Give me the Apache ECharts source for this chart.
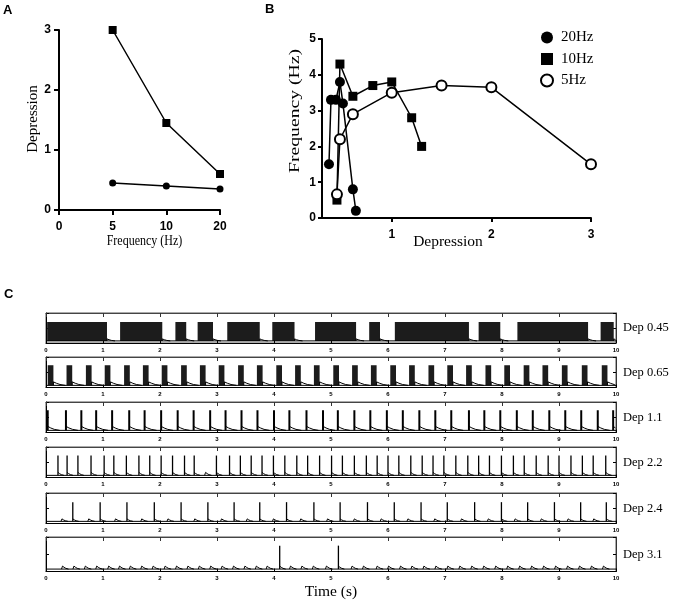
<!DOCTYPE html>
<html><head><meta charset="utf-8">
<script src="https://cdn.jsdelivr.net/npm/echarts@6/dist/echarts.min.js"></script>
<style>html,body{margin:0;padding:0;background:#fff}#c{width:680px;height:601px}</style>
</head><body><div id="c"></div><script>
// ---------- Panel A data ----------
const freqCategories = ['0', '5', '10', '20'];
const depressionSquares = [null, 3.0, 1.45, 0.6];
const depressionCircles = [null, 0.45, 0.40, 0.35];
const depressionTicks = [0, 1, 2, 3];

// ---------- Panel B data ([depression, frequency]) ----------
const legendNames = ['20Hz', '10Hz', '5Hz'];
const b20Hz = [[0.37, 1.5], [0.39, 3.3], [0.44, 3.3], [0.48, 3.8], [0.51, 3.2], [0.61, 0.8], [0.64, 0.2]];
const b10Hz = [[0.45, 0.5], [0.48, 4.3], [0.61, 3.4], [0.81, 3.7], [1.0, 3.8], [1.2, 2.8], [1.3, 2.0]];
const b5Hz  = [[0.45, 0.66], [0.48, 2.2], [0.61, 2.9], [1.0, 3.5], [1.5, 3.7], [2.0, 3.65], [3.0, 1.5]];
const bXTicks = [1, 2, 3];

// ---------- Panel C data (times in s) ----------
const traceLabels = ['Dep 0.45', 'Dep 0.65', 'Dep 1.1', 'Dep 2.2', 'Dep 2.4', 'Dep 3.1'];
const timeRange = [0, 10];
const dep045Bursts = [[0.02, 1.07], [1.30, 2.04], [2.27, 2.46], [2.66, 2.93], [3.18, 3.75], [3.97, 4.36],
  [4.72, 5.44], [5.67, 5.86], [6.12, 7.42], [7.59, 7.97], [8.27, 9.51], [9.73, 9.96]];
const dep065Bursts = [[0.03, 0.13], [0.36, 0.46], [0.70, 0.80], [1.03, 1.13], [1.37, 1.47], [1.70, 1.80],
  [2.03, 2.13], [2.37, 2.47], [2.70, 2.80], [3.03, 3.13], [3.37, 3.47], [3.70, 3.80], [4.04, 4.14],
  [4.37, 4.47], [4.70, 4.80], [5.04, 5.14], [5.37, 5.47], [5.70, 5.80], [6.04, 6.14], [6.37, 6.47],
  [6.71, 6.81], [7.04, 7.14], [7.37, 7.47], [7.71, 7.81], [8.04, 8.14], [8.38, 8.48], [8.71, 8.81],
  [9.05, 9.15], [9.40, 9.50], [9.75, 9.85]];
const dep11Spikes = [0.03, 0.35, 0.62, 0.88, 1.16, 1.46, 1.73, 2.02, 2.31, 2.59, 2.88, 3.15, 3.43, 3.71,
  4.00, 4.27, 4.57, 4.86, 5.12, 5.41, 5.69, 5.98, 6.26, 6.55, 6.83, 7.11, 7.42, 7.69, 7.97, 8.26,
  8.54, 8.83, 9.11, 9.39, 9.68, 9.95];
const dep22Spikes = [0.21, 0.37, 0.56, 0.79, 1.02, 1.19, 1.41, 1.63, 1.82, 2.02, 2.22, 2.43, 2.60,
  2.99, 3.22, 3.41, 3.60, 3.79, 3.99, 4.19, 4.40, 4.59, 4.80, 5.01, 5.20, 5.41, 5.62, 5.81, 6.00,
  6.19, 6.40, 6.60, 6.79, 6.98, 7.19, 7.40, 7.59, 7.78, 7.99, 8.20, 8.39, 8.60, 8.81, 9.00, 9.21,
  9.41, 9.60, 9.82];
const dep22Failures = [2.80];
const dep24Spikes = [0.47, 0.95, 1.42, 1.90, 2.37, 2.84, 3.30, 3.75, 4.22, 4.70, 5.16, 5.64, 6.11,
  6.58, 7.04, 7.52, 7.99, 8.45, 8.92, 9.38, 9.83];
const dep24Failures = [0.28, 0.75, 1.22, 1.68, 2.14, 2.61, 3.08, 3.53, 3.99, 4.47, 4.94, 5.41, 5.88,
  6.35, 6.82, 7.29, 7.76, 8.23, 8.69, 9.16, 9.61];
const dep31Spikes = [4.10, 5.13];
const dep31Failures = [0.29, 0.49, 0.69, 0.89, 1.10, 1.29, 1.48, 1.68, 1.88, 2.09, 2.29, 2.49, 2.69,
  2.89, 3.09, 3.29, 3.49, 3.69, 3.88, 4.29, 4.49, 4.69, 4.92, 5.37, 5.57, 5.81, 6.01, 6.22, 6.42,
  6.63, 6.84, 7.05, 7.26, 7.47, 7.68, 7.89, 8.10, 8.31, 8.52, 8.73, 8.94, 9.15, 9.36, 9.57, 9.78];

// Per-trace amplitudes (arbitrary units, 0..10 box)
const BASE = 0.7;
const tracePeaks = [7.0, 7.3, 7.3, 7.2, 7.0, 7.5];

// ---------- styles / layout ----------
const SANS = '"Liberation Sans", Arial, sans-serif';
const SERIF = '"Liberation Serif", "Times New Roman", serif';
const cTops = [313, 357, 402, 447, 493, 537];
const cHeights = [30, 30.5, 30.5, 30.5, 30.5, 34.5];
const traceStyle = [
  { hump: 2, len: 8, w: 1 },
  { hump: 3.5, len: 12, w: 1 },
  { hump: 4, len: 12, w: 2 },
  { hump: 3, len: 6, w: 1.3 },
  { hump: 2.5, len: 6, w: 1.3 },
  { hump: 3, len: 6, w: 1.3 }
];

function humpPts(x0, by, h, len) {
  return [[x0 + len * 0.25, by - h * 0.6], [x0 + len * 0.55, by - h * 0.25], [x0 + len, by]];
}
function clipPts(pts, right) {
  const out = [];
  for (let k = 0; k < pts.length; k++) {
    if (pts[k][0] <= right) out.push(pts[k]);
    else { out.push([right, pts[k][1]]); break; }
  }
  return out;
}
function makeRender(kind, i) {
  const st = traceStyle[i];
  return function (params, api) {
    const cs = params.coordSys;
    const right = cs.x + cs.width - 0.5;
    const t = api.value(0);
    const b = api.coord([t, BASE]);
    const lineStyle = { stroke: '#000', fill: null, lineWidth: 1 };
    if (kind === 'burst') {
      const e = api.value(1);
      const p = api.coord([e, tracePeaks[i]]);
      return {
        type: 'group', children: [
          { type: 'rect', shape: { x: b[0], y: p[1], width: Math.max(1, Math.min(p[0], right) - b[0]), height: b[1] - p[1] }, style: { fill: '#1c1c1c' } },
          { type: 'polyline', shape: { points: clipPts([[p[0], b[1]], [p[0], b[1] - st.hump]].concat(humpPts(p[0], b[1], st.hump, st.len)), right) }, style: lineStyle }
        ]
      };
    }
    if (kind === 'spike') {
      const p = api.coord([t, tracePeaks[i]]);
      return {
        type: 'group', children: [
          { type: 'line', shape: { x1: b[0], y1: b[1], x2: b[0], y2: p[1] }, style: { stroke: '#000', lineWidth: st.w } },
          { type: 'polyline', shape: { points: clipPts([[b[0], b[1] - st.hump]].concat(humpPts(b[0], b[1], st.hump, st.len)), right) }, style: lineStyle }
        ]
      };
    }
    return {
      type: 'polyline',
      shape: { points: clipPts([[b[0] - 1, b[1]], [b[0], b[1] - st.hump]].concat(humpPts(b[0], b[1], st.hump, st.len)), right) },
      style: lineStyle
    };
  };
}

const grids = [
  { left: 59, top: 30, width: 161, height: 180 },
  { left: 322, top: 39, width: 269, height: 179 }
];
cTops.forEach((t, i) => grids.push({ left: 46, top: t, width: 570, height: cHeights[i], show: true, borderColor: '#555', borderWidth: 1 }));

const boldLabel = { color: '#000', fontWeight: 'bold', fontSize: 12, fontFamily: SANS };
const thickLine = { lineStyle: { color: '#000', width: 2 } };

const xAxes = [
  { gridIndex: 0, type: 'category', data: freqCategories, boundaryGap: false,
    axisLine: thickLine, axisTick: { length: 5, lineStyle: { color: '#000', width: 2 } },
    axisLabel: Object.assign({ margin: 11 }, boldLabel), splitLine: { show: false } },
  { gridIndex: 1, type: 'value', min: 0.3, max: 3,
    axisLine: Object.assign({ onZero: false }, thickLine),
    axisTick: { customValues: bXTicks, length: 4, lineStyle: { color: '#000', width: 2 } },
    axisLabel: Object.assign({ margin: 11, customValues: bXTicks }, boldLabel), splitLine: { show: false } }
];
const yAxes = [
  { gridIndex: 0, type: 'value', min: depressionTicks[0], max: depressionTicks[depressionTicks.length - 1], interval: 1,
    axisLine: Object.assign({ show: true, onZero: false }, thickLine),
    axisTick: { show: true, length: 5, lineStyle: { color: '#000', width: 2 } },
    axisLabel: Object.assign({ margin: 8 }, boldLabel), splitLine: { show: false } },
  { gridIndex: 1, type: 'value', min: 0, max: 5, interval: 1,
    axisLine: Object.assign({ show: true, onZero: false }, thickLine),
    axisTick: { show: true, length: 4, lineStyle: { color: '#000', width: 2 } },
    axisLabel: Object.assign({ margin: 6 }, boldLabel), splitLine: { show: false } }
];
traceLabels.forEach((lab, i) => {
  const ax = { gridIndex: 2 + i, type: 'value', min: timeRange[0], max: timeRange[1], interval: 1,
    axisLine: { onZero: false, lineStyle: { color: '#000', width: 1 } },
    axisTick: { inside: true, length: 3, lineStyle: { color: '#000' } },
    axisLabel: { color: '#000', fontSize: 6, fontWeight: 'bold', fontFamily: SANS, margin: 4 },
    splitLine: { show: false } };
  if (i === traceLabels.length - 1) {
    Object.assign(ax, { name: 'Time (s)', nameLocation: 'middle', nameGap: 12,
      nameTextStyle: { color: '#000', fontSize: 15.5, fontFamily: SERIF } });
  }
  xAxes.push(ax);
});
traceLabels.forEach((lab, i) => {
  xAxes.push({ gridIndex: 2 + i, type: 'value', position: 'top', min: timeRange[0], max: timeRange[1], interval: 1,
    axisLine: { onZero: false, lineStyle: { color: '#444', width: 1 } },
    axisTick: { inside: true, length: 4, lineStyle: { color: '#333' } },
    axisLabel: { show: false }, splitLine: { show: false } });
});
traceLabels.forEach((lab, i) => {
  yAxes.push({ gridIndex: 2 + i, type: 'value', min: 0, max: 10, interval: 5,
    axisLine: { show: true, onZero: false, lineStyle: { color: '#000', width: 1 } },
    axisTick: { show: true, inside: true, length: 3, lineStyle: { color: '#000' } },
    axisLabel: { show: false }, splitLine: { show: false } });
});
traceLabels.forEach((lab, i) => {
  yAxes.push({ gridIndex: 2 + i, type: 'value', position: 'right', min: 0, max: 10, interval: 5,
    axisLine: { show: true, onZero: false, lineStyle: { color: '#333', width: 1 } },
    axisTick: { show: true, inside: true, length: 3, lineStyle: { color: '#000' } },
    axisLabel: { show: false }, splitLine: { show: false },
    name: lab, nameLocation: 'middle', nameRotate: 0, nameGap: 7,
    nameTextStyle: { color: '#000', fontSize: 12.5, fontFamily: SERIF } });
});

const blackLine = { color: '#000', width: 1.5 };
const series = [
  { type: 'line', xAxisIndex: 0, yAxisIndex: 0, data: depressionSquares, symbol: 'rect', symbolSize: 8,
    itemStyle: { color: '#000' }, lineStyle: blackLine, showAllSymbol: true },
  { type: 'line', xAxisIndex: 0, yAxisIndex: 0, data: depressionCircles, symbol: 'circle', symbolSize: 7,
    itemStyle: { color: '#000' }, lineStyle: blackLine, showAllSymbol: true },
  { name: legendNames[1], type: 'line', xAxisIndex: 1, yAxisIndex: 1, data: b10Hz, symbol: 'rect', symbolSize: 9,
    itemStyle: { color: '#000' }, lineStyle: blackLine, showAllSymbol: true },
  { name: legendNames[0], type: 'line', xAxisIndex: 1, yAxisIndex: 1, data: b20Hz, symbol: 'circle', symbolSize: 10,
    itemStyle: { color: '#000' }, lineStyle: blackLine, showAllSymbol: true },
  { name: legendNames[2], type: 'line', xAxisIndex: 1, yAxisIndex: 1, data: b5Hz, symbol: 'circle', symbolSize: 10,
    itemStyle: { color: '#fff', borderColor: '#000', borderWidth: 2 }, lineStyle: blackLine, showAllSymbol: true }
];

const traceEvents = [
  [['burst', dep045Bursts]],
  [['burst', dep065Bursts]],
  [['spike', dep11Spikes]],
  [['spike', dep22Spikes], ['fail', dep22Failures]],
  [['spike', dep24Spikes], ['fail', dep24Failures]],
  [['spike', dep31Spikes], ['fail', dep31Failures]]
];
traceEvents.forEach((evs, i) => {
  series.push({ type: 'line', xAxisIndex: 2 + i, yAxisIndex: 2 + i, symbol: 'none',
    data: [[timeRange[0], BASE], [timeRange[1], BASE]], lineStyle: { color: '#000', width: 1 } });
  evs.forEach(([kind, arr]) => {
    series.push({ type: 'custom', xAxisIndex: 2 + i, yAxisIndex: 2 + i,
      data: kind === 'burst' ? arr : arr.map(t => [t]),
      renderItem: makeRender(kind, i) });
  });
});

const chart = echarts.init(document.getElementById('c'), null, { renderer: 'canvas' });
chart.setOption({
  animation: false,
  backgroundColor: '#fff',
  grid: grids,
  xAxis: xAxes,
  yAxis: yAxes,
  legend: {
    orient: 'vertical', left: 535, top: 25, itemWidth: 12, itemHeight: 12, itemGap: 6.5,
    textStyle: { color: '#000', fontSize: 15, fontFamily: SERIF, lineHeight: 14, padding: [0, 0, 0, 3] },
    data: [
      { name: legendNames[0], icon: 'circle', itemStyle: { color: '#000' } },
      { name: legendNames[1], icon: 'rect', itemStyle: { color: '#000' } },
      { name: legendNames[2], icon: 'circle', itemStyle: { color: '#fff', borderColor: '#000', borderWidth: 2 } }
    ]
  },
  graphic: [
    { type: 'text', left: 3, top: 4, style: { text: 'A', fontSize: 13, fontWeight: 'bold', fontFamily: SANS, fill: '#000' } },
    { type: 'text', left: 265, top: 3, style: { text: 'B', fontSize: 13, fontWeight: 'bold', fontFamily: SANS, fill: '#000' } },
    { type: 'text', left: 4, top: 288, style: { text: 'C', fontSize: 13, fontWeight: 'bold', fontFamily: SANS, fill: '#000' } },
    { type: 'text', x: 144.5, y: 241.5, scaleX: 0.8, style: { text: 'Frequency (Hz)', fontSize: 15, fontFamily: SERIF, fill: '#000', align: 'center', verticalAlign: 'middle' } },
    { type: 'text', x: 33, y: 119, rotation: Math.PI / 2, style: { text: 'Depression', fontSize: 15, fontFamily: SERIF, fill: '#000', align: 'center', verticalAlign: 'middle' } },
    { type: 'text', x: 295, y: 111, rotation: Math.PI / 2, scaleX: 1.31, style: { text: 'Frequency (Hz)', fontSize: 15, fontFamily: SERIF, fill: '#000', align: 'center', verticalAlign: 'middle' } },
    { type: 'text', x: 448, y: 241.5, style: { text: 'Depression', fontSize: 15.5, fontFamily: SERIF, fill: '#000', align: 'center', verticalAlign: 'middle' } }
  ],
  series: series
});
</script></body></html>
